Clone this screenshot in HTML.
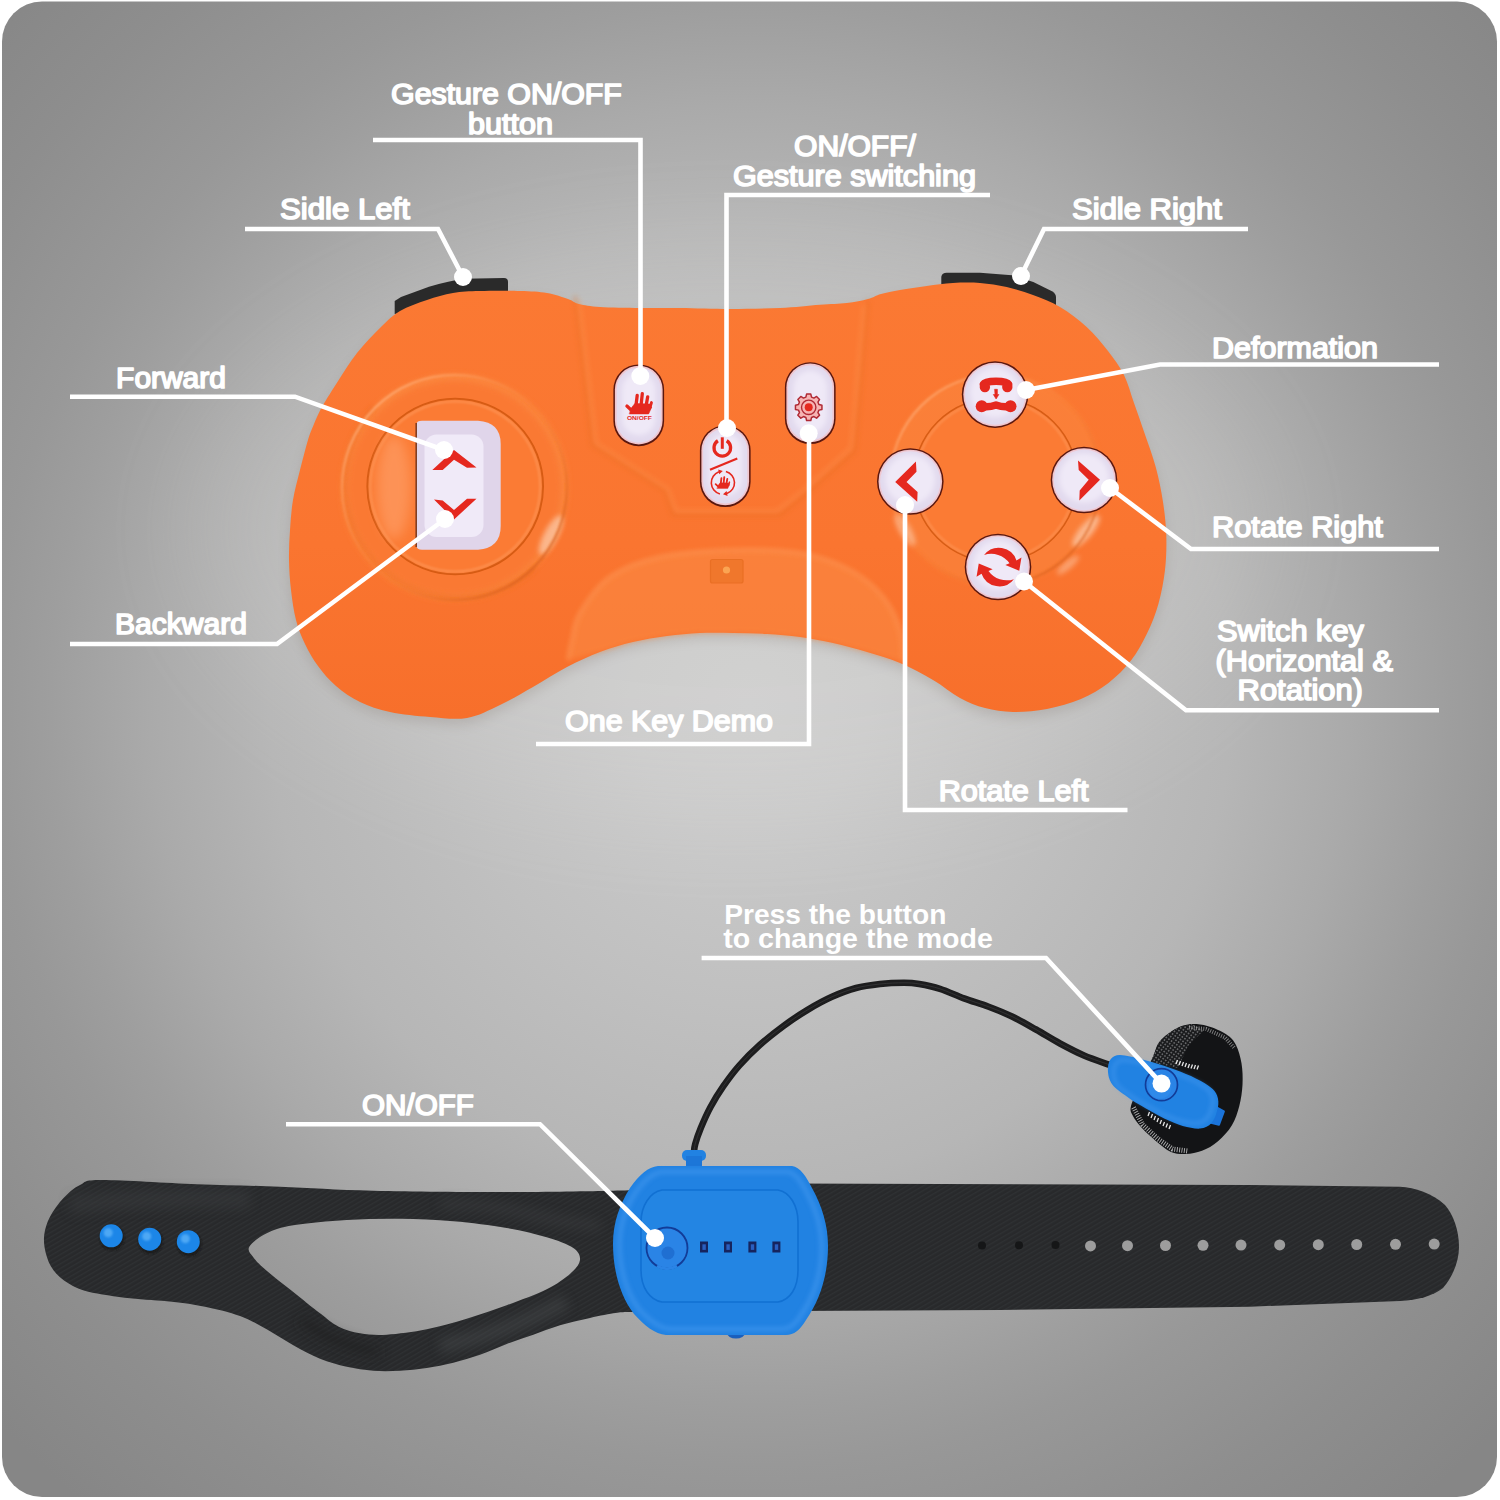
<!DOCTYPE html>
<html lang="en"><head><meta charset="utf-8"><title>Remote control functions</title>
<style>
html,body{margin:0;padding:0;background:#fff;}
body{width:1500px;height:1500px;overflow:hidden;}
svg{display:block}
text{font-family:"Liberation Sans",sans-serif;font-size:28.6px;fill:#fff;stroke:#fff;stroke-width:1.6px;stroke-linejoin:round;}
text.b{font-weight:bold;font-size:28.5px;stroke-width:0;}
</style></head><body>
<svg width="1500" height="1500" viewBox="0 0 1500 1500">
<defs>
<radialGradient id="bg" cx="750" cy="705" r="1040" gradientUnits="userSpaceOnUse">
<stop offset="0.000" stop-color="#cccccc"/><stop offset="0.115" stop-color="#c9c9c9"/><stop offset="0.288" stop-color="#c0c0c0"/><stop offset="0.462" stop-color="#b6b6b6"/><stop offset="0.577" stop-color="#aaaaaa"/><stop offset="0.673" stop-color="#9e9e9e"/><stop offset="0.731" stop-color="#989898"/><stop offset="0.865" stop-color="#8e8e8e"/><stop offset="1.000" stop-color="#868686"/>
</radialGradient>
<linearGradient id="org" x1="0" y1="0" x2="0" y2="1">
<stop offset="0" stop-color="#fb7933"/><stop offset="0.6" stop-color="#fa7530"/><stop offset="1" stop-color="#f76f2b"/>
</linearGradient>
<linearGradient id="ring" x1="0.15" y1="0.15" x2="0.85" y2="0.85"><stop offset="0" stop-color="#ffb07a"/><stop offset="0.5" stop-color="#f98238" stop-opacity="0.3"/><stop offset="1" stop-color="#d9601a"/></linearGradient>
<radialGradient id="btn" cx="0.5" cy="0.45" r="0.6">
<stop offset="0" stop-color="#efe9f6"/><stop offset="0.8" stop-color="#e9e0f1"/><stop offset="1" stop-color="#e0d4ea"/>
</radialGradient>
<pattern id="tex" width="4" height="4" patternUnits="userSpaceOnUse" patternTransform="rotate(-30)">
<rect width="4" height="4" fill="#28292b"/><rect width="4" height="1.3" fill="#2f3133"/>
</pattern>
<pattern id="mesh" width="3.2" height="3.2" patternUnits="userSpaceOnUse" patternTransform="rotate(35)"><rect width="3.2" height="3.2" fill="#1a1b1d"/><circle cx="1.6" cy="1.6" r="0.9" fill="#6f7072"/></pattern>
<filter id="soft" filterUnits="userSpaceOnUse" x="0" y="0" width="1500" height="1500"><feGaussianBlur stdDeviation="6"/></filter>
<filter id="halo" x="-30%" y="-30%" width="160%" height="160%"><feGaussianBlur stdDeviation="55"/></filter>
<filter id="soft1" filterUnits="userSpaceOnUse" x="0" y="0" width="1500" height="1500"><feGaussianBlur stdDeviation="1"/></filter>
<filter id="soft2" filterUnits="userSpaceOnUse" x="0" y="0" width="1500" height="1500"><feGaussianBlur stdDeviation="2.5"/></filter>
</defs>
<rect x="2" y="1.5" width="1495" height="1495.5" rx="40" fill="url(#bg)"/>
<ellipse cx="730" cy="530" rx="540" ry="290" fill="#fffdf8" opacity="0.10" filter="url(#halo)"/>
<path d="M308.0,440.0C310.3,432.3 311.7,429.5 314.0,424.0C316.3,418.5 317.9,414.3 322.0,407.0C326.1,399.7 332.9,389.0 338.7,380.0C344.5,371.0 349.9,361.8 357.0,353.0C364.1,344.2 373.8,334.0 381.0,327.0C388.2,320.0 392.3,315.5 400.0,311.0C407.7,306.5 418.2,303.0 427.0,300.0C435.8,297.0 444.2,294.5 453.0,293.0C461.8,291.5 468.8,291.3 480.0,291.0C491.2,290.7 508.8,290.7 520.0,291.0C531.2,291.3 539.0,291.7 547.0,293.0C555.0,294.3 562.7,297.2 568.0,299.0C573.3,300.8 573.7,302.7 579.0,304.0C584.3,305.3 589.8,306.3 600.0,307.0C610.2,307.7 626.7,307.8 640.0,308.0C653.3,308.2 665.0,307.8 680.0,308.0C695.0,308.2 713.3,309.0 730.0,309.0C746.7,309.0 765.0,308.7 780.0,308.0C795.0,307.3 808.9,305.5 820.0,304.7C831.1,303.9 838.7,303.9 846.7,303.0C854.7,302.1 862.3,300.5 868.0,299.0C873.7,297.5 875.7,295.5 881.0,294.0C886.3,292.5 892.4,291.3 900.0,290.0C907.6,288.7 917.9,287.2 926.7,286.0C935.5,284.8 944.1,283.5 953.0,283.0C961.9,282.5 971.0,282.3 980.0,283.0C989.0,283.7 997.9,285.0 1006.7,287.0C1015.5,289.0 1024.1,291.7 1033.0,295.0C1041.9,298.3 1051.0,301.7 1060.0,307.0C1069.0,312.3 1078.7,319.7 1086.7,327.0C1094.7,334.3 1101.8,343.0 1108.0,351.0C1114.2,359.0 1119.7,366.3 1124.0,375.0C1128.3,383.7 1130.5,393.2 1134.0,403.0C1137.5,412.8 1141.1,423.2 1144.8,434.0C1148.5,444.8 1153.0,456.7 1156.0,468.0C1159.0,479.3 1161.3,490.7 1163.0,502.0C1164.7,513.3 1166.0,524.7 1166.3,536.0C1166.6,547.3 1166.3,558.7 1165.0,570.0C1163.7,581.3 1161.4,593.4 1158.4,604.0C1155.4,614.6 1151.6,624.1 1147.0,633.5C1142.4,642.9 1137.4,652.4 1131.0,660.6C1124.6,668.9 1116.8,676.6 1108.5,683.0C1100.2,689.4 1091.2,694.7 1081.0,699.0C1070.8,703.3 1058.3,706.8 1047.0,709.0C1035.7,711.2 1023.3,712.2 1013.0,712.0C1002.7,711.8 993.8,710.3 985.0,708.0C976.2,705.7 968.7,702.7 960.0,698.0C951.3,693.3 943.0,685.8 933.0,680.0C923.0,674.2 911.0,667.7 900.0,663.0C889.0,658.3 878.2,655.3 867.0,652.0C855.8,648.7 844.2,645.5 833.0,643.0C821.8,640.5 811.0,638.5 800.0,637.0C789.0,635.5 778.2,634.7 767.0,634.0C755.8,633.3 744.2,633.2 733.0,633.0C721.8,632.8 711.0,632.5 700.0,633.0C689.0,633.5 678.2,634.5 667.0,636.0C655.8,637.5 644.2,639.3 633.0,642.0C621.8,644.7 611.0,647.8 600.0,652.0C589.0,656.2 578.2,661.2 567.0,667.0C555.8,672.8 544.2,680.7 533.0,687.0C521.8,693.3 511.0,699.8 500.0,705.0C489.0,710.2 478.7,716.0 467.0,718.0C455.3,720.0 442.8,718.0 430.0,717.0C417.2,716.0 401.7,714.5 390.0,712.0C378.3,709.5 369.0,706.3 360.0,702.0C351.0,697.7 343.0,692.0 336.0,686.0C329.0,680.0 323.2,673.0 318.0,666.0C312.8,659.0 308.7,651.7 305.0,644.0C301.3,636.3 298.3,629.0 296.0,620.0C293.7,611.0 292.2,600.0 291.0,590.0C289.8,580.0 289.2,570.0 289.0,560.0C288.8,550.0 289.3,540.0 290.0,530.0C290.7,520.0 291.3,510.0 293.0,500.0C294.7,490.0 297.5,480.0 300.0,470.0C302.5,460.0 305.7,447.7 308.0,440.0Z" fill="#6b5a50" opacity="0.18" filter="url(#soft)" transform="translate(0,6)"/>
<path d="M394.7,314 L394.7,301 L401,297 L429,286.7 Q450,280.5 464,278.7 L504,278 Q508,278 508,282 L508,300 Z" fill="#2a2a2a"/>
<path d="M941.3,295 L941.3,276.7 Q942,272.7 946.7,272.7 L980,272.7 L1012,275.3 L1033.3,282 L1052,291.3 Q1056,294 1056,297 L1056,312 Z" fill="#2a2a2a"/>
<path d="M308.0,440.0C310.3,432.3 311.7,429.5 314.0,424.0C316.3,418.5 317.9,414.3 322.0,407.0C326.1,399.7 332.9,389.0 338.7,380.0C344.5,371.0 349.9,361.8 357.0,353.0C364.1,344.2 373.8,334.0 381.0,327.0C388.2,320.0 392.3,315.5 400.0,311.0C407.7,306.5 418.2,303.0 427.0,300.0C435.8,297.0 444.2,294.5 453.0,293.0C461.8,291.5 468.8,291.3 480.0,291.0C491.2,290.7 508.8,290.7 520.0,291.0C531.2,291.3 539.0,291.7 547.0,293.0C555.0,294.3 562.7,297.2 568.0,299.0C573.3,300.8 573.7,302.7 579.0,304.0C584.3,305.3 589.8,306.3 600.0,307.0C610.2,307.7 626.7,307.8 640.0,308.0C653.3,308.2 665.0,307.8 680.0,308.0C695.0,308.2 713.3,309.0 730.0,309.0C746.7,309.0 765.0,308.7 780.0,308.0C795.0,307.3 808.9,305.5 820.0,304.7C831.1,303.9 838.7,303.9 846.7,303.0C854.7,302.1 862.3,300.5 868.0,299.0C873.7,297.5 875.7,295.5 881.0,294.0C886.3,292.5 892.4,291.3 900.0,290.0C907.6,288.7 917.9,287.2 926.7,286.0C935.5,284.8 944.1,283.5 953.0,283.0C961.9,282.5 971.0,282.3 980.0,283.0C989.0,283.7 997.9,285.0 1006.7,287.0C1015.5,289.0 1024.1,291.7 1033.0,295.0C1041.9,298.3 1051.0,301.7 1060.0,307.0C1069.0,312.3 1078.7,319.7 1086.7,327.0C1094.7,334.3 1101.8,343.0 1108.0,351.0C1114.2,359.0 1119.7,366.3 1124.0,375.0C1128.3,383.7 1130.5,393.2 1134.0,403.0C1137.5,412.8 1141.1,423.2 1144.8,434.0C1148.5,444.8 1153.0,456.7 1156.0,468.0C1159.0,479.3 1161.3,490.7 1163.0,502.0C1164.7,513.3 1166.0,524.7 1166.3,536.0C1166.6,547.3 1166.3,558.7 1165.0,570.0C1163.7,581.3 1161.4,593.4 1158.4,604.0C1155.4,614.6 1151.6,624.1 1147.0,633.5C1142.4,642.9 1137.4,652.4 1131.0,660.6C1124.6,668.9 1116.8,676.6 1108.5,683.0C1100.2,689.4 1091.2,694.7 1081.0,699.0C1070.8,703.3 1058.3,706.8 1047.0,709.0C1035.7,711.2 1023.3,712.2 1013.0,712.0C1002.7,711.8 993.8,710.3 985.0,708.0C976.2,705.7 968.7,702.7 960.0,698.0C951.3,693.3 943.0,685.8 933.0,680.0C923.0,674.2 911.0,667.7 900.0,663.0C889.0,658.3 878.2,655.3 867.0,652.0C855.8,648.7 844.2,645.5 833.0,643.0C821.8,640.5 811.0,638.5 800.0,637.0C789.0,635.5 778.2,634.7 767.0,634.0C755.8,633.3 744.2,633.2 733.0,633.0C721.8,632.8 711.0,632.5 700.0,633.0C689.0,633.5 678.2,634.5 667.0,636.0C655.8,637.5 644.2,639.3 633.0,642.0C621.8,644.7 611.0,647.8 600.0,652.0C589.0,656.2 578.2,661.2 567.0,667.0C555.8,672.8 544.2,680.7 533.0,687.0C521.8,693.3 511.0,699.8 500.0,705.0C489.0,710.2 478.7,716.0 467.0,718.0C455.3,720.0 442.8,718.0 430.0,717.0C417.2,716.0 401.7,714.5 390.0,712.0C378.3,709.5 369.0,706.3 360.0,702.0C351.0,697.7 343.0,692.0 336.0,686.0C329.0,680.0 323.2,673.0 318.0,666.0C312.8,659.0 308.7,651.7 305.0,644.0C301.3,636.3 298.3,629.0 296.0,620.0C293.7,611.0 292.2,600.0 291.0,590.0C289.8,580.0 289.2,570.0 289.0,560.0C288.8,550.0 289.3,540.0 290.0,530.0C290.7,520.0 291.3,510.0 293.0,500.0C294.7,490.0 297.5,480.0 300.0,470.0C302.5,460.0 305.7,447.7 308.0,440.0Z" fill="url(#org)"/>
<path d="M575,296 L592,445 L665,491 L673,515 L780,515 L807,493 L855,451 L868,300" fill="none" stroke="#e2691c" stroke-width="3" opacity="0.4" stroke-linejoin="round" filter="url(#soft2)"/>
<path d="M579,300 L596,443 L668,489 L676,511 L777,511 L804,490 L851,448 L864,304" fill="none" stroke="#ffa261" stroke-width="2.5" opacity="0.45" stroke-linejoin="round" filter="url(#soft2)"/>
<path d="M568.0,660.0C568.7,656.7 570.0,647.8 572.0,640.0C574.0,632.2 573.7,623.5 580.0,613.0C586.3,602.5 596.7,586.3 610.0,577.0C623.3,567.7 639.5,561.5 660.0,557.0C680.5,552.5 709.7,550.7 733.0,550.0C756.3,549.3 780.5,549.7 800.0,553.0C819.5,556.3 836.2,562.7 850.0,570.0C863.8,577.3 874.7,587.0 883.0,597.0C891.3,607.0 896.7,619.2 900.0,630.0C903.3,640.8 902.5,656.7 903.0,662.0 L867,652 L833,643 L800,637 L767,634 L733,633 L700,633 L667,636 L633,642 L600,652 Z" fill="#fb8b45" opacity="0.55" filter="url(#soft2)"/>
<path d="M568.0,660.0C568.7,656.7 570.0,647.8 572.0,640.0C574.0,632.2 573.7,623.5 580.0,613.0C586.3,602.5 596.7,586.3 610.0,577.0C623.3,567.7 639.5,561.5 660.0,557.0C680.5,552.5 709.7,550.7 733.0,550.0C756.3,549.3 780.5,549.7 800.0,553.0C819.5,556.3 836.2,562.7 850.0,570.0C863.8,577.3 874.7,587.0 883.0,597.0C891.3,607.0 896.7,619.2 900.0,630.0C903.3,640.8 902.5,656.7 903.0,662.0" fill="none" stroke="#ffa566" stroke-width="3" opacity="0.55" filter="url(#soft2)"/>
<rect x="710.5" y="559.5" width="32.5" height="23.5" rx="2" fill="#f0772c" stroke="#e96f24" stroke-width="1.2"/><circle cx="726.5" cy="570" r="3.6" fill="#fba452"/>
<circle cx="454.5" cy="487.5" r="114" fill="#fb8840" opacity="0.75" filter="url(#soft2)"/>
<path d="M374,568 A114,114 0 0 0 535,407" fill="none" stroke="#e8651a" stroke-width="5" opacity="0.45" filter="url(#soft2)" transform="rotate(90 454.5 487.5)"/>
<circle cx="454.5" cy="487.5" r="106" fill="#fa7730" opacity="0.8" filter="url(#soft2)"/>
<ellipse cx="551" cy="535" rx="22" ry="7" fill="#fcc09a" opacity="0.85" transform="rotate(-62 551 535)" filter="url(#soft2)"/>
<circle cx="454.5" cy="487.5" r="112.5" fill="none" stroke="url(#ring)" stroke-width="2.5" opacity="0.75" filter="url(#soft1)"/>
<circle cx="455.2" cy="486.5" r="87.8" fill="#fb7b34" stroke="#d65a12" stroke-width="2"/>
<ellipse cx="394" cy="487" rx="17" ry="52" fill="#ffa672" opacity="0.55" filter="url(#soft)"/>
<circle cx="455.2" cy="486.5" r="85" fill="none" stroke="#ffa86e" stroke-width="2" opacity="0.5" filter="url(#soft1)"/>
<path d="M416.7,424 Q416.7,420.7 422,420.7 L478,420.7 Q500.7,422 500.7,444 L500.7,526 Q500.7,548 478,549.8 L422,549.8 Q416.7,549.8 416.7,546 Z" fill="#e0d5ea"/>
<path d="M416.2,423 V547" stroke="#7a3a20" stroke-width="1.5"/>
<rect x="424.5" y="434.5" width="59" height="102.5" rx="12" fill="#f0eaf8"/>
<path d="M454,450.1 L432.3,470 L442.7,470 L454,459.7 L467,467.8 L476.5,467.5 Z" fill="#e5281f"/>
<path d="M454,519.5 L434,499.5 L442.7,500.4 L454,510 L467,498.7 L476.5,498.7 Z" fill="#e5281f"/>
<circle cx="995.5" cy="480" r="106" fill="#fb8840" opacity="0.5" filter="url(#soft2)"/>
<ellipse cx="1086" cy="531" rx="20" ry="6.5" fill="#fcc09a" opacity="0.85" transform="rotate(-50 1086 531)" filter="url(#soft2)"/>
<ellipse cx="1068" cy="565" rx="14" ry="4" fill="#fcc09a" opacity="0.6" transform="rotate(-40 1068 565)" filter="url(#soft2)"/>
<ellipse cx="905" cy="530" rx="18" ry="6" fill="#fcc09a" opacity="0.7" transform="rotate(60 905 530)" filter="url(#soft2)"/>
<circle cx="995.5" cy="480" r="105" fill="none" stroke="url(#ring)" stroke-width="2.5" opacity="0.6" filter="url(#soft1)"/>
<circle cx="995.5" cy="480" r="82" fill="#fb7b34" stroke="#d65a12" stroke-width="1.6"/>
<circle cx="995.5" cy="480" r="79.5" fill="none" stroke="#ffa86e" stroke-width="2" opacity="0.45" filter="url(#soft1)"/>
<circle cx="995.1" cy="394.6" r="33.3" fill="#5a170e"/>
<circle cx="995.1" cy="394.6" r="31.799999999999997" fill="#f0c6cf"/>
<circle cx="995.1" cy="394.6" r="30.199999999999996" fill="#e2daee"/>
<circle cx="995.1" cy="392.6" r="24.799999999999997" fill="#efe9f7" filter="url(#soft2)"/>
<circle cx="910.3" cy="481.5" r="33.3" fill="#5a170e"/>
<circle cx="910.3" cy="481.5" r="31.799999999999997" fill="#f0c6cf"/>
<circle cx="910.3" cy="481.5" r="30.199999999999996" fill="#e2daee"/>
<circle cx="910.3" cy="479.5" r="24.799999999999997" fill="#efe9f7" filter="url(#soft2)"/>
<circle cx="1084" cy="480" r="33.3" fill="#5a170e"/>
<circle cx="1084" cy="480" r="31.799999999999997" fill="#f0c6cf"/>
<circle cx="1084" cy="480" r="30.199999999999996" fill="#e2daee"/>
<circle cx="1084" cy="478" r="24.799999999999997" fill="#efe9f7" filter="url(#soft2)"/>
<circle cx="998" cy="567" r="33.3" fill="#5a170e"/>
<circle cx="998" cy="567" r="31.799999999999997" fill="#f0c6cf"/>
<circle cx="998" cy="567" r="30.199999999999996" fill="#e2daee"/>
<circle cx="998" cy="565" r="24.799999999999997" fill="#efe9f7" filter="url(#soft2)"/>
<path d="M895.2,481.9 L915.9,461.6 L916.5,471.8 L906.5,481.9 L917.6,491.9 L917.2,501.7 Z" fill="#e5281f"/>
<path d="M1100,479.7 L1078,460.5 L1078.7,470 L1088.7,479.7 L1079.7,490.4 L1079.3,500.4 Z" fill="#e5281f"/>
<g fill="#e5281f" stroke="#e5281f" stroke-linecap="round" stroke-linejoin="round"><path d="M983.5,384 Q985,381.3 996,381.2 Q1007,381.3 1008.5,384" fill="none" stroke-width="7.6"/><circle cx="984.9" cy="387" r="5.2" stroke="none"/><circle cx="1007.3" cy="387" r="5.2" stroke="none"/><path d="M994.8,389.3 h2.6 v5.2 h1.5 l-2.8,4.5 l-2.8,-4.5 h1.5 z" stroke-width="0.6"/><path d="M982,406.4 Q989,407.5 996,405 Q1003,407.5 1010,406.4" fill="none" stroke-width="7.4"/><circle cx="981.7" cy="406.3" r="6" stroke="none"/><circle cx="1010.5" cy="406.3" r="6" stroke="none"/></g>
<path d="M-14.92,-12.08 A18.7,18.7 0 0 1 17.46,-6.70 L22.46,-9.53 L20.26,3.72 L6.37,-2.07 L10.52,-3.83 A22.58,22.58 0 0 0 -14.92,-12.08 Z" fill="#e5281f" transform="translate(999,567.1) rotate(0)"/>
<path d="M-14.92,-12.08 A18.7,18.7 0 0 1 17.46,-6.70 L22.46,-9.53 L20.26,3.72 L6.37,-2.07 L10.52,-3.83 A22.58,22.58 0 0 0 -14.92,-12.08 Z" fill="#e5281f" transform="translate(999,567.1) rotate(180)"/>
<rect x="613.4" y="364.40000000000003" width="50.7" height="81.9" rx="25.35" fill="#5a170e"/>
<rect x="614.9" y="365.7" width="47.7" height="78.7" rx="23.85" fill="#f0c6cf"/>
<rect x="616.6" y="367.40000000000003" width="44.3" height="75.3" rx="22.15" fill="#e2daee"/>
<rect x="622" y="372.8" width="33.5" height="62.5" rx="16.75" fill="#efe9f7" filter="url(#soft2)"/>
<rect x="699.9" y="425.20000000000005" width="50.7" height="81.9" rx="25.35" fill="#5a170e"/>
<rect x="701.4" y="426.5" width="47.7" height="78.7" rx="23.85" fill="#f0c6cf"/>
<rect x="703.1" y="428.20000000000005" width="44.3" height="75.3" rx="22.15" fill="#e2daee"/>
<rect x="708.5" y="433.6" width="33.5" height="62.5" rx="16.75" fill="#efe9f7" filter="url(#soft2)"/>
<rect x="784.9" y="362.20000000000005" width="50.7" height="81.9" rx="25.35" fill="#5a170e"/>
<rect x="786.4" y="363.5" width="47.7" height="78.7" rx="23.85" fill="#f0c6cf"/>
<rect x="788.1" y="365.20000000000005" width="44.3" height="75.3" rx="22.15" fill="#e2daee"/>
<rect x="793.5" y="370.6" width="33.5" height="62.5" rx="16.75" fill="#efe9f7" filter="url(#soft2)"/>
<g fill="#e5281f" stroke="#e5281f" stroke-linecap="round" stroke-linejoin="round"><path d="M635.9,406.2 L637.2,395.5 M641.1,405.1 L642.3,393.6 M646.1,405.7 L647.7,396.8" fill="none" stroke-width="3.3"/><path d="M649.8,408.3 L651.5,402.5" fill="none" stroke-width="2.8"/><path d="M632.2,411 L626.9,406" fill="none" stroke-width="3.2"/><path d="M629.6,413.9 H648.6 L651.6,407.3 L649.8,404.1 L634.9,403.5 L631.1,408.3 Z" stroke-width="0.6"/></g>
<text x="626.9" y="420.2" textLength="25" lengthAdjust="spacingAndGlyphs" style="font-size:5.6px;font-weight:bold;fill:#e5281f;stroke:none">ON/OFF</text>
<g fill="none" stroke="#e5281f"><path d="M717.90,440.76 A8.3,8.3 0 1 0 726.70,440.76" stroke-width="3.3"/><path d="M722.3,437.3 V448.8" stroke-width="3"/><path d="M710,469.7 L737.3,458.5" stroke-width="2.2"/></g>
<g fill="none" stroke="#e5281f" stroke-width="1.6"><path d="M725.90,471.50 A11.6,11.6 0 0 1 726.87,493.60"/><path d="M719.90,493.90 A11.6,11.6 0 0 1 718.93,471.80"/></g>
<path d="M718.2,469.5 l4.6,1.6 l-3.6,3.2 z M727.6,495.9 l-4.6,-1.6 l3.6,-3.2 z" fill="#e5281f"/>
<g transform="translate(722.7,483) scale(0.56) translate(-639.5,-404)"><g fill="#e5281f" stroke="#e5281f" stroke-linecap="round" stroke-linejoin="round"><path d="M635.9,406.2 L637.2,395.5 M641.1,405.1 L642.3,393.6 M646.1,405.7 L647.7,396.8" fill="none" stroke-width="3.3"/><path d="M649.8,408.3 L651.5,402.5" fill="none" stroke-width="2.8"/><path d="M632.2,411 L626.9,406" fill="none" stroke-width="3.2"/><path d="M629.6,413.9 H648.6 L651.6,407.3 L649.8,404.1 L634.9,403.5 L631.1,408.3 Z" stroke-width="0.6"/></g></g>
<path d="M806.60,394.06 L810.80,394.06 L811.53,397.09 L813.92,398.07 L816.58,396.46 L819.54,399.42 L817.93,402.08 L818.91,404.47 L821.94,405.20 L821.94,409.40 L818.91,410.13 L817.93,412.52 L819.54,415.18 L816.58,418.14 L813.92,416.53 L811.53,417.51 L810.80,420.54 L806.60,420.54 L805.87,417.51 L803.48,416.53 L800.82,418.14 L797.86,415.18 L799.47,412.52 L798.49,410.13 L795.46,409.40 L795.46,405.20 L798.49,404.47 L799.47,402.08 L797.86,399.42 L800.82,396.46 L803.48,398.07 L805.87,397.09Z" fill="#f6b4b4" stroke="#b02a35" stroke-width="1.5" stroke-linejoin="round"/>
<circle cx="808.7" cy="407.3" r="7.2" fill="#f6b4b4" stroke="#b02a35" stroke-width="1.4"/><circle cx="808.7" cy="407.3" r="4" fill="#e5281f"/>
<path d="M650.0,1312.0C646.1,1312.0 632.8,1311.8 626.7,1312.0C620.6,1312.2 620.0,1312.2 613.3,1313.3C606.6,1314.4 595.6,1316.7 586.7,1318.7C577.8,1320.7 568.9,1322.6 560.0,1325.3C551.1,1328.0 542.2,1331.6 533.3,1334.7C524.4,1337.8 515.6,1340.7 506.7,1344.0C497.8,1347.3 488.9,1351.6 480.0,1354.7C471.1,1357.8 462.2,1360.5 453.3,1362.7C444.4,1364.9 435.6,1366.7 426.7,1368.0C417.8,1369.3 408.9,1370.2 400.0,1370.7C391.1,1371.2 382.2,1371.4 373.3,1370.7C364.4,1370.0 355.6,1368.7 346.7,1366.7C337.8,1364.7 328.9,1362.3 320.0,1358.7C311.1,1355.1 302.2,1350.2 293.3,1345.3C284.4,1340.4 275.6,1334.2 266.7,1329.3C257.8,1324.4 250.3,1319.8 240.0,1316.0C229.7,1312.2 216.4,1309.1 205.0,1306.7C193.6,1304.3 184.2,1303.1 171.7,1301.7C159.2,1300.3 143.9,1300.0 130.0,1298.3C116.1,1296.6 98.6,1294.2 88.3,1291.7C78.0,1289.2 74.1,1286.9 68.3,1283.3C62.5,1279.7 57.0,1275.0 53.3,1270.0C49.5,1265.0 47.3,1259.1 45.8,1253.3C44.3,1247.5 43.5,1241.1 44.2,1235.0C44.9,1228.9 46.8,1222.8 50.0,1216.7C53.2,1210.6 58.3,1203.6 63.3,1198.3C68.3,1193.0 73.6,1188.0 80.0,1185.0C86.4,1182.0 82.2,1180.1 101.7,1180.0C121.2,1179.9 167.0,1183.1 196.7,1184.2C226.4,1185.3 250.6,1185.6 280.0,1186.7C309.4,1187.8 335.5,1189.8 373.3,1190.7C411.1,1191.6 466.7,1192.0 506.7,1192.0C546.7,1192.0 589.4,1191.2 613.3,1190.7C637.2,1190.2 643.9,1189.3 650.0,1189.0 Z M249.3,1246.7C251.5,1242.7 259.4,1236.9 266.7,1233.3C274.0,1229.7 280.0,1227.5 293.3,1225.3C306.6,1223.1 328.9,1221.1 346.7,1220.0C364.5,1218.9 382.2,1218.5 400.0,1218.7C417.8,1218.9 435.5,1219.8 453.3,1221.3C471.1,1222.8 491.1,1225.3 506.7,1228.0C522.3,1230.7 535.6,1234.0 546.7,1237.3C557.8,1240.6 567.8,1244.2 573.3,1248.0C578.8,1251.8 580.4,1255.8 580.0,1260.0C579.6,1264.2 576.2,1268.4 570.7,1273.3C565.2,1278.2 557.4,1284.0 546.7,1289.3C536.0,1294.6 520.0,1300.4 506.7,1305.3C493.4,1310.2 480.0,1314.7 466.7,1318.7C453.4,1322.7 440.0,1326.6 426.7,1329.3C413.4,1332.0 397.8,1334.0 386.7,1334.7C375.6,1335.4 368.0,1334.6 360.0,1333.3C352.0,1332.0 345.4,1330.0 338.7,1326.7C332.0,1323.4 327.6,1319.1 320.0,1313.3C312.4,1307.5 302.2,1299.1 293.3,1292.0C284.4,1284.9 273.4,1276.5 266.7,1270.7C260.0,1264.9 256.2,1261.3 253.3,1257.3C250.4,1253.3 247.1,1250.7 249.3,1246.7Z" fill="url(#tex)" fill-rule="evenodd"/>
<path d="M440,1346 Q500,1335 566,1302" fill="none" stroke="#505255" stroke-width="14" opacity="0.4" filter="url(#soft)"/>
<path d="M300,1318 Q330,1345 380,1352" fill="none" stroke="#1c1d1f" stroke-width="14" opacity="0.4" filter="url(#soft)"/>
<path d="M440,1204 Q480,1203 520,1212 Q560,1222 600,1226" fill="none" stroke="#45474a" stroke-width="8" opacity="0.4" filter="url(#soft)"/>
<path d="M70,1205 Q150,1196 250,1200" fill="none" stroke="#3d3f42" stroke-width="18" opacity="0.4" filter="url(#soft)"/>
<circle cx="112.2" cy="1238.3" r="12" fill="#1a1b1d" filter="url(#soft1)"/>
<circle cx="111.2" cy="1235.8" r="11.5" fill="#1c86e8"/>
<circle cx="108.2" cy="1232.8" r="4.5" fill="#56aef7" opacity="0.85" filter="url(#soft1)"/>
<circle cx="150.7" cy="1241.7" r="12" fill="#1a1b1d" filter="url(#soft1)"/>
<circle cx="149.7" cy="1239.2" r="11.5" fill="#1c86e8"/>
<circle cx="146.7" cy="1236.2" r="4.5" fill="#56aef7" opacity="0.85" filter="url(#soft1)"/>
<circle cx="189.3" cy="1244.2" r="12" fill="#1a1b1d" filter="url(#soft1)"/>
<circle cx="188.3" cy="1241.7" r="11.5" fill="#1c86e8"/>
<circle cx="185.3" cy="1238.7" r="4.5" fill="#56aef7" opacity="0.85" filter="url(#soft1)"/>
<path d="M790,1183.5 L1250,1185 L1400,1186.7 C1415,1187.5 1432,1193 1445,1205 C1453,1214 1459,1230 1459,1246.7 C1459,1262 1452,1278 1443,1288 C1433,1296 1418,1300 1400,1301 L1250,1306.7 L1000,1310 L790,1311 Z" fill="url(#tex)"/>
<circle cx="982" cy="1245.5" r="4" fill="#151617"/>
<circle cx="1019" cy="1245.3" r="4" fill="#151617"/>
<circle cx="1055.5" cy="1245.1" r="4" fill="#151617"/>
<circle cx="1090.5" cy="1245.9" r="5.5" fill="#9d9d9d"/>
<circle cx="1127.5" cy="1245.7" r="5.5" fill="#9d9d9d"/>
<circle cx="1165.5" cy="1245.5" r="5.5" fill="#9d9d9d"/>
<circle cx="1203" cy="1245.3" r="5.5" fill="#9d9d9d"/>
<circle cx="1241" cy="1245.1" r="5.5" fill="#9d9d9d"/>
<circle cx="1279.7" cy="1244.9" r="5.5" fill="#9d9d9d"/>
<circle cx="1318.3" cy="1244.7" r="5.5" fill="#9d9d9d"/>
<circle cx="1356.7" cy="1244.5" r="5.5" fill="#9d9d9d"/>
<circle cx="1395.5" cy="1244.3" r="5.5" fill="#9d9d9d"/>
<circle cx="1434.2" cy="1244.1" r="5.5" fill="#9d9d9d"/>
<path d="M694.0,1152.0C694.2,1150.7 694.1,1148.0 695.2,1144.0C696.3,1140.0 698.3,1134.1 700.8,1128.0C703.3,1121.9 706.7,1114.1 710.4,1107.2C714.1,1100.3 718.4,1093.3 723.2,1086.4C728.0,1079.5 733.1,1072.5 739.2,1065.6C745.3,1058.7 752.5,1051.5 760.0,1044.8C767.5,1038.1 776.0,1031.5 784.0,1025.6C792.0,1019.7 800.0,1014.4 808.0,1009.6C816.0,1004.8 824.0,1000.4 832.0,996.8C840.0,993.2 848.0,990.1 856.0,988.0C864.0,985.9 872.0,984.9 880.0,984.0C888.0,983.1 897.5,982.8 904.0,982.8C910.5,982.8 913.2,983.0 919.2,984.0C925.2,985.0 932.5,986.4 940.0,988.8C947.5,991.2 956.0,995.4 964.0,998.4C972.0,1001.4 980.0,1003.5 988.0,1006.5C996.0,1009.5 1004.0,1012.7 1012.0,1016.5C1020.0,1020.3 1028.0,1025.0 1036.0,1029.5C1044.0,1034.0 1052.0,1039.2 1060.0,1043.5C1068.0,1047.8 1075.7,1051.9 1084.0,1055.5C1092.3,1059.1 1105.7,1063.4 1110.0,1065.0" fill="none" stroke="#1d1d1e" stroke-width="6.6" stroke-linecap="round"/>
<path d="M694.0,1152.0C694.2,1150.7 694.1,1148.0 695.2,1144.0C696.3,1140.0 698.3,1134.1 700.8,1128.0C703.3,1121.9 706.7,1114.1 710.4,1107.2C714.1,1100.3 718.4,1093.3 723.2,1086.4C728.0,1079.5 733.1,1072.5 739.2,1065.6C745.3,1058.7 752.5,1051.5 760.0,1044.8C767.5,1038.1 776.0,1031.5 784.0,1025.6C792.0,1019.7 800.0,1014.4 808.0,1009.6C816.0,1004.8 824.0,1000.4 832.0,996.8C840.0,993.2 848.0,990.1 856.0,988.0C864.0,985.9 872.0,984.9 880.0,984.0C888.0,983.1 897.5,982.8 904.0,982.8C910.5,982.8 913.2,983.0 919.2,984.0C925.2,985.0 932.5,986.4 940.0,988.8C947.5,991.2 956.0,995.4 964.0,998.4C972.0,1001.4 980.0,1003.5 988.0,1006.5C996.0,1009.5 1004.0,1012.7 1012.0,1016.5C1020.0,1020.3 1028.0,1025.0 1036.0,1029.5C1044.0,1034.0 1052.0,1039.2 1060.0,1043.5C1068.0,1047.8 1075.7,1051.9 1084.0,1055.5C1092.3,1059.1 1105.7,1063.4 1110.0,1065.0" fill="none" stroke="#3a3a3c" stroke-width="0.9" opacity="0.8"/>
<path d="M1152.9,1056.9C1156.1,1049.7 1155.9,1046.4 1159.3,1042.0C1162.7,1037.6 1168.4,1033.2 1173.2,1030.3C1178.0,1027.4 1182.4,1025.1 1188.1,1024.4C1193.8,1023.7 1200.9,1024.3 1207.3,1026.0C1213.7,1027.7 1221.7,1031.3 1226.5,1034.5C1231.3,1037.7 1233.6,1040.4 1236.1,1045.2C1238.6,1050.0 1240.4,1056.7 1241.5,1063.3C1242.6,1069.9 1242.9,1077.6 1242.5,1084.7C1242.1,1091.8 1241.1,1099.2 1239.3,1106.0C1237.5,1112.8 1235.5,1119.3 1231.9,1125.2C1228.4,1131.1 1223.0,1136.9 1218.0,1141.2C1213.0,1145.5 1207.3,1148.7 1202.0,1150.8C1196.7,1152.9 1191.2,1153.8 1186.0,1154.0C1180.8,1154.2 1176.0,1154.0 1171.0,1151.9C1166.0,1149.8 1161.1,1145.3 1156.1,1141.2C1151.1,1137.1 1145.1,1131.6 1141.2,1127.3C1137.3,1123.0 1134.4,1119.1 1132.7,1115.6C1131.0,1112.0 1129.8,1111.1 1131.0,1106.0C1132.2,1100.9 1136.3,1093.2 1140.0,1085.0C1143.7,1076.8 1149.7,1064.1 1152.9,1056.9Z" fill="#131416"/>
<clipPath id="lpc"><path d="M1152.9,1056.9C1156.1,1049.7 1155.9,1046.4 1159.3,1042.0C1162.7,1037.6 1168.4,1033.2 1173.2,1030.3C1178.0,1027.4 1182.4,1025.1 1188.1,1024.4C1193.8,1023.7 1200.9,1024.3 1207.3,1026.0C1213.7,1027.7 1221.7,1031.3 1226.5,1034.5C1231.3,1037.7 1233.6,1040.4 1236.1,1045.2C1238.6,1050.0 1240.4,1056.7 1241.5,1063.3C1242.6,1069.9 1242.9,1077.6 1242.5,1084.7C1242.1,1091.8 1241.1,1099.2 1239.3,1106.0C1237.5,1112.8 1235.5,1119.3 1231.9,1125.2C1228.4,1131.1 1223.0,1136.9 1218.0,1141.2C1213.0,1145.5 1207.3,1148.7 1202.0,1150.8C1196.7,1152.9 1191.2,1153.8 1186.0,1154.0C1180.8,1154.2 1176.0,1154.0 1171.0,1151.9C1166.0,1149.8 1161.1,1145.3 1156.1,1141.2C1151.1,1137.1 1145.1,1131.6 1141.2,1127.3C1137.3,1123.0 1134.4,1119.1 1132.7,1115.6C1131.0,1112.0 1129.8,1111.1 1131.0,1106.0C1132.2,1100.9 1136.3,1093.2 1140.0,1085.0C1143.7,1076.8 1149.7,1064.1 1152.9,1056.9Z"/></clipPath>
<g clip-path="url(#lpc)"><path d="M1150,1062 L1160,1040 L1176,1028 L1192,1024 L1204,1030 L1188,1046 L1178,1068 Z" fill="url(#mesh)"/></g>
<path d="M1132,1110 L1141,1127 L1156,1141 L1171,1151.5 L1186,1153.5" fill="none" stroke="#e8e8e8" stroke-width="5" stroke-dasharray="0.9 1.5" opacity="0.75" transform="translate(1.5,-2.5)"/>
<path d="M1190,1025.5 L1207,1027 L1226,1035.5 L1235,1045.5" fill="none" stroke="#cfcfcf" stroke-width="4" stroke-dasharray="0.9 1.5" opacity="0.6" transform="translate(-1,2)"/>
<path d="M1176,1064 l1.5,-4 M1179,1065 l1.5,-4 M1182,1066 l1.5,-4 M1185,1067 l1.5,-4 M1188,1068 l1.5,-4 M1191,1068.5 l1.5,-4 M1194,1069 l1.5,-4 M1197,1069.5 l1.5,-4" stroke="#e6e6e6" stroke-width="1.3" fill="none"/>
<path d="M1148,1116 l1.5,-4 M1151,1118 l1.5,-4 M1154,1120 l1.5,-4 M1157,1122 l1.5,-4 M1160,1124 l1.5,-4 M1163,1126 l1.5,-4 M1166,1127.5 l1.5,-4 M1169,1129 l1.5,-4" stroke="#e6e6e6" stroke-width="1.3" fill="none"/>
<path d="M1214,1106 L1223.9,1111.3 L1219,1124.7 L1208,1122 Z" fill="#1b74da" stroke="#1b74da" stroke-width="2" stroke-linejoin="round"/>
<path d="M1108,1072 C1107,1062 1111,1055 1120,1055 C1132,1056 1150,1061 1175.3,1069.7 C1190,1075 1203,1081 1212.7,1088.9 C1218,1094 1220,1102 1217,1111 C1215,1120 1210,1128 1200,1128.6 C1190,1129 1178,1125 1164.7,1118.8 C1150,1111 1140,1105 1132.7,1100.7 C1125,1095 1119,1091 1115.6,1087.9 C1111,1084 1108.5,1079 1108,1072 Z" fill="#2182e2"/>
<path d="M1108,1072 C1107,1062 1111,1055 1120,1055 C1132,1056 1150,1061 1175.3,1069.7 C1190,1075 1203,1081 1212.7,1088.9 C1218,1094 1220,1102 1217,1111 C1215,1120 1210,1128 1200,1128.6 C1190,1129 1178,1125 1164.7,1118.8 C1150,1111 1140,1105 1132.7,1100.7 C1125,1095 1119,1091 1115.6,1087.9 C1111,1084 1108.5,1079 1108,1072 Z" fill="none" stroke="#4f9ff2" stroke-width="4" opacity="0.45" filter="url(#soft2)" transform="translate(1163 1091) scale(0.9 0.86) translate(-1163 -1091)"/>
<circle cx="1161.5" cy="1084.7" r="16" fill="#2a84e6" stroke="#123c98" stroke-width="1.7"/><circle cx="1160" cy="1087" r="11.5" fill="#2f8aea"/>
<rect x="682" y="1150" width="24" height="11" rx="5" fill="#2182e2"/><rect x="686" y="1156" width="16" height="14" fill="#1c76d8"/>
<ellipse cx="736" cy="1333" rx="9" ry="5.5" fill="#1a5fbd"/>
<path d="M658,1166 L792,1166 C800,1167 806,1176 812,1188 C822,1206 828,1225 828,1246 C828,1275 820,1300 806,1320 C800,1330 794,1335 786,1335 L666,1335 C655,1334 645,1326 634,1314 C620,1296 613,1270 613,1244 C613,1222 620,1204 630,1188 C640,1174 648,1167 658,1166 Z" fill="#2182e2"/>
<path d="M658,1166 L792,1166 C800,1167 806,1176 812,1188 C822,1206 828,1225 828,1246 C828,1275 820,1300 806,1320 C800,1330 794,1335 786,1335 L666,1335 C655,1334 645,1326 634,1314 C620,1296 613,1270 613,1244 C613,1222 620,1204 630,1188 C640,1174 648,1167 658,1166 Z" fill="none" stroke="#4a9cf2" stroke-width="5" opacity="0.5" filter="url(#soft2)" transform="translate(723 1250) scale(0.94 0.93) translate(-723 -1250)"/>
<path d="M662,1190 L778,1190 C790,1192 798,1206 798,1222 L798,1270 C798,1288 790,1300 778,1302 L662,1302 C650,1300 641,1288 641,1270 L641,1222 C641,1206 650,1192 662,1190 Z" fill="#2385e3" stroke="#1170d2" stroke-width="1.6"/>
<circle cx="667" cy="1248" r="20.5" fill="#2a84e6" stroke="#123c98" stroke-width="1.8"/>
<path d="M657,1266 A20.5,20.5 0 0 0 677,1266" stroke="#2a84e6" stroke-width="3" fill="none"/>
<circle cx="668" cy="1253" r="6.5" fill="#1f6fd2"/>
<rect x="700" y="1241.5" width="8" height="11" fill="#16245e"/>
<rect x="702.4" y="1244.3" width="3.4" height="5.6" fill="#2a5fc0"/>
<rect x="724" y="1241.5" width="8" height="11" fill="#16245e"/>
<rect x="726.4" y="1244.3" width="3.4" height="5.6" fill="#2a5fc0"/>
<rect x="748.4" y="1241.5" width="8" height="11" fill="#16245e"/>
<rect x="750.8" y="1244.3" width="3.4" height="5.6" fill="#2a5fc0"/>
<rect x="772.4" y="1241.5" width="8" height="11" fill="#16245e"/>
<rect x="774.8" y="1244.3" width="3.4" height="5.6" fill="#2a5fc0"/>
<path d="M373,140 H640.5 V376" fill="none" stroke="#fff" stroke-width="4.6" stroke-linejoin="miter"/>
<path d="M245,229 H438 L463,277" fill="none" stroke="#fff" stroke-width="4.6" stroke-linejoin="miter"/>
<path d="M990,195 H726.5 V428" fill="none" stroke="#fff" stroke-width="4.6" stroke-linejoin="miter"/>
<path d="M1248,229 H1044 L1021,276" fill="none" stroke="#fff" stroke-width="4.6" stroke-linejoin="miter"/>
<path d="M1439,364.5 H1160 L1026,390" fill="none" stroke="#fff" stroke-width="4.6" stroke-linejoin="miter"/>
<path d="M1439,549 H1191 L1110,488" fill="none" stroke="#fff" stroke-width="4.6" stroke-linejoin="miter"/>
<path d="M1439,710.3 H1186 L1024,581.5" fill="none" stroke="#fff" stroke-width="4.6" stroke-linejoin="miter"/>
<path d="M1127.5,810 H905 V505" fill="none" stroke="#fff" stroke-width="4.6" stroke-linejoin="miter"/>
<path d="M536,744 H809 V433" fill="none" stroke="#fff" stroke-width="4.6" stroke-linejoin="miter"/>
<path d="M70,396.7 H295 L444,450" fill="none" stroke="#fff" stroke-width="4.6" stroke-linejoin="miter"/>
<path d="M70,644 H277 L445,519" fill="none" stroke="#fff" stroke-width="4.6" stroke-linejoin="miter"/>
<path d="M701.6,958 H1046 L1161.5,1083.6" fill="none" stroke="#fff" stroke-width="4.6" stroke-linejoin="miter"/>
<path d="M286,1124.2 H540 L655,1238" fill="none" stroke="#fff" stroke-width="4.6" stroke-linejoin="miter"/>
<circle cx="640.3" cy="376" r="9" fill="#fff"/>
<circle cx="463" cy="277" r="9" fill="#fff"/>
<circle cx="727" cy="428" r="9" fill="#fff"/>
<circle cx="1021" cy="276" r="9" fill="#fff"/>
<circle cx="1026" cy="390" r="9" fill="#fff"/>
<circle cx="1110" cy="488" r="9" fill="#fff"/>
<circle cx="1024" cy="581.5" r="9" fill="#fff"/>
<circle cx="905" cy="505" r="9" fill="#fff"/>
<circle cx="808.7" cy="433.3" r="9" fill="#fff"/>
<circle cx="444" cy="450" r="9" fill="#fff"/>
<circle cx="445" cy="519" r="9" fill="#fff"/>
<circle cx="1161.5" cy="1083.6" r="9" fill="#fff"/>
<circle cx="655" cy="1238" r="9" fill="#fff"/>
<text x="391.1" y="104.0" textLength="230.8" lengthAdjust="spacingAndGlyphs">Gesture ON/OFF</text>
<text x="468.1" y="133.5" textLength="84.8" lengthAdjust="spacingAndGlyphs">button</text>
<text x="280.1" y="219.0" textLength="129.8" lengthAdjust="spacingAndGlyphs">Sidle Left</text>
<text x="794.1" y="155.6" textLength="121.8" lengthAdjust="spacingAndGlyphs">ON/OFF/</text>
<text x="733.1" y="186.0" textLength="242.8" lengthAdjust="spacingAndGlyphs">Gesture switching</text>
<text x="1072.1" y="219.0" textLength="149.8" lengthAdjust="spacingAndGlyphs">Sidle Right</text>
<text x="1212.1" y="358.2" textLength="165.8" lengthAdjust="spacingAndGlyphs">Deformation</text>
<text x="1212.1" y="537.0" textLength="170.8" lengthAdjust="spacingAndGlyphs">Rotate Right</text>
<text x="1217.1" y="641.0" textLength="146.8" lengthAdjust="spacingAndGlyphs">Switch key</text>
<text x="1215.6" y="670.5" textLength="177.3" lengthAdjust="spacingAndGlyphs">(Horizontal &amp;</text>
<text x="1237.6" y="700.0" textLength="125.3" lengthAdjust="spacingAndGlyphs">Rotation)</text>
<text x="938.7" y="800.5" textLength="149.8" lengthAdjust="spacingAndGlyphs">Rotate Left</text>
<text x="565.1" y="731.2" textLength="207.8" lengthAdjust="spacingAndGlyphs">One Key Demo</text>
<text x="116.1" y="388.0" textLength="109.8" lengthAdjust="spacingAndGlyphs">Forward</text>
<text x="115.1" y="634.0" textLength="131.8" lengthAdjust="spacingAndGlyphs">Backward</text>
<text class="b" x="724.2" y="923.6" textLength="222.2" lengthAdjust="spacingAndGlyphs">Press the button</text>
<text class="b" x="723.2" y="947.6" textLength="269.6" lengthAdjust="spacingAndGlyphs">to change the mode</text>
<text x="362.1" y="1114.8" textLength="111.8" lengthAdjust="spacingAndGlyphs">ON/OFF</text>
</svg>
</body></html>
